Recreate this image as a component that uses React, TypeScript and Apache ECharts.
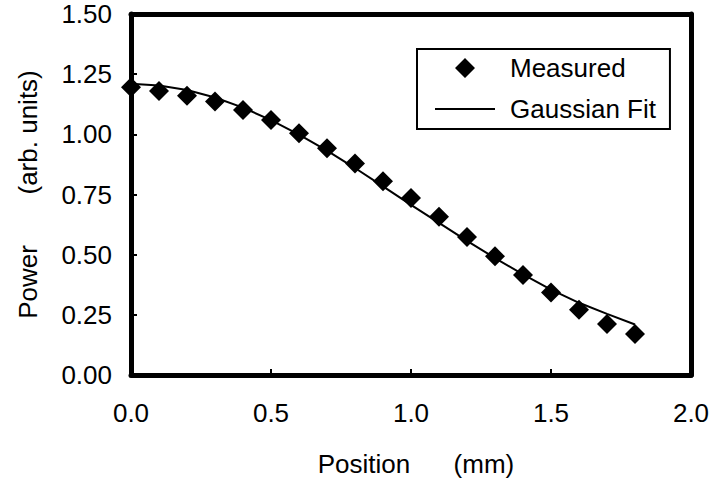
import React, { useEffect, useRef } from "react";
import * as echarts from "echarts";

// Beam profile: positions (mm), measured power and the fitted Gaussian
const positions = [0.0, 0.1, 0.2, 0.3, 0.4, 0.5, 0.6, 0.7, 0.8, 0.9, 1.0, 1.1, 1.2, 1.3, 1.4, 1.5, 1.6, 1.7, 1.8];
const measured = [1.196, 1.18, 1.16, 1.136, 1.101, 1.06, 1.005, 0.942, 0.879, 0.805, 0.735, 0.658, 0.573, 0.493, 0.416, 0.343, 0.271, 0.212, 0.17];
const gaussianFit = [1.21, 1.203, 1.184, 1.153, 1.111, 1.059, 0.999, 0.932, 0.86, 0.784, 0.707, 0.632, 0.557, 0.486, 0.418, 0.355, 0.3, 0.254, 0.21];

const xTicks = [0.0, 0.5, 1.0, 1.5, 2.0];
const yTicks = [0.0, 0.25, 0.5, 0.75, 1.0, 1.25, 1.5];

const FONT = "'Liberation Sans', Arial, Helvetica, sans-serif";

// Legend icons in a 60x20 box; the tiny end segments fix the bounding box so the shape keeps its size
const diamondIcon = "path://M0,10L0.01,10L0,10.01Z M20,10L30,0L40,10L30,20Z M59.99,10L60,10L59.99,10.01Z";
const lineIcon = "path://M0,0L0.01,0L0,0.01Z M0,9L60,9L60,11L0,11Z M59.99,20L60,20L59.99,19.99Z";

export default function App() {
  const ref = useRef<HTMLDivElement>(null);

  useEffect(() => {
    document.body.style.margin = "0";
    if (!ref.current) return;
    const chart = echarts.init(ref.current, null, { renderer: "svg" });

    const thickLine = () => ({ show: true, onZero: false, lineStyle: { color: "#000", width: 5 } });
    const axisTick = { show: true, inside: true, length: 6, lineStyle: { color: "#000", width: 2 } };
    const frameAxis = () => ({
      type: "value",
      axisLine: thickLine(),
      axisTick: { show: false },
      axisLabel: { show: false },
      splitLine: { show: false },
    });

    chart.setOption({
      animation: false,
      backgroundColor: "#fff",
      textStyle: { fontFamily: FONT },
      grid: { left: 131, right: 29, top: 14, bottom: 107 },
      xAxis: [
        {
          type: "value",
          position: "bottom",
          min: xTicks[0],
          max: xTicks[xTicks.length - 1],
          interval: 0.5,
          axisLine: thickLine(),
          axisTick,
          splitLine: { show: false },
          axisLabel: {
            color: "#000",
            fontSize: 26,
            fontFamily: FONT,
            margin: 25,
            formatter: (v: number) => v.toFixed(1),
          },
          name: "Position      (mm)",
          nameLocation: "middle",
          nameGap: 76,
          nameTextStyle: { color: "#000", fontSize: 26, fontFamily: FONT, padding: [0, 0, 0, 10] },
        },
        { ...frameAxis(), position: "top", min: 0, max: 2 },
      ],
      yAxis: [
        {
          type: "value",
          position: "left",
          min: yTicks[0],
          max: yTicks[yTicks.length - 1],
          interval: 0.25,
          axisLine: thickLine(),
          axisTick,
          splitLine: { show: false },
          axisLabel: {
            color: "#000",
            fontSize: 26,
            fontFamily: FONT,
            margin: 19,
            formatter: (v: number) => v.toFixed(2),
          },
          name: "Power       (arb. units)",
          nameLocation: "middle",
          nameGap: 90,
          nameTextStyle: { color: "#000", fontSize: 26, fontFamily: FONT },
        },
        { ...frameAxis(), position: "right", min: 0, max: 1.5 },
      ],
      legend: {
        left: 417,
        top: 49,
        orient: "vertical",
        align: "left",
        padding: [6, 14, 7, 18],
        itemGap: 15,
        itemWidth: 60,
        itemHeight: 20,
        borderColor: "#000",
        borderWidth: 2,
        backgroundColor: "#fff",
        textStyle: { color: "#000", fontSize: 26, fontFamily: FONT, padding: [0, 0, 0, 10] },
        data: [
          { name: "Measured", icon: diamondIcon, itemStyle: { color: "#000", opacity: 1 } },
          { name: "Gaussian Fit", icon: lineIcon, itemStyle: { color: "#000", opacity: 1 } },
        ],
      },
      series: [
        {
          name: "Gaussian Fit",
          type: "line",
          data: positions.map((x, i) => [x, gaussianFit[i]]),
          symbol: "none",
          smooth: false,
          clip: false,
          lineStyle: { color: "#000", width: 2 },
          itemStyle: { color: "#000" },
          z: 3,
        },
        {
          name: "Measured",
          type: "scatter",
          data: positions.map((x, i) => [x, measured[i]]),
          symbol: "diamond",
          symbolSize: 20,
          clip: false,
          itemStyle: { color: "#000", opacity: 1 },
          z: 4,
        },
      ],
    });

    return () => chart.dispose();
  }, []);

  return <div ref={ref} style={{ width: 720, height: 482 }} />;
}
